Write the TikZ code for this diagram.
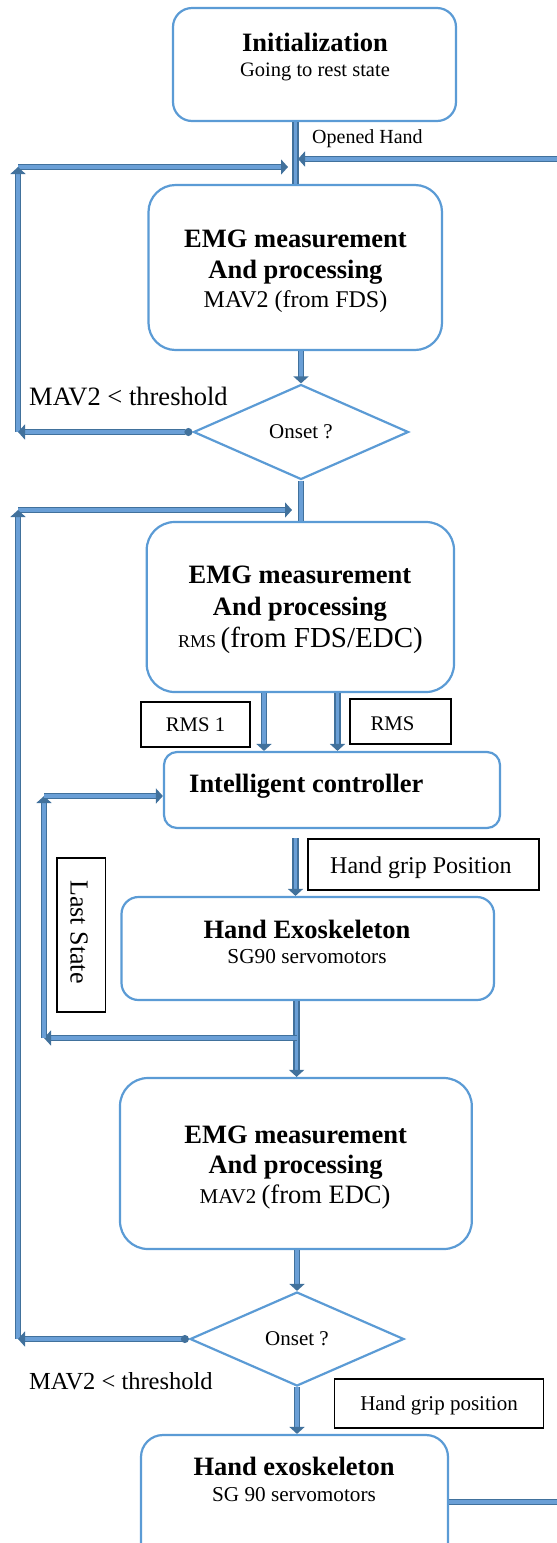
\documentclass[tikz,border=0pt]{standalone}
\usepackage{fontspec}
\setmainfont{Liberation Serif}
\usetikzlibrary{arrows.meta,shapes.geometric}
\definecolor{boxblue}{HTML}{5B9BD5}
\definecolor{arrdark}{HTML}{41719C}
\definecolor{arrlight}{HTML}{6A9FD6}
\newcommand{\setfs}[1]{\fontsize{#1}{#1}\selectfont}
\begin{document}
\begin{tikzpicture}[x=1pt,y=-1pt,
  rbox/.style={draw=boxblue,line width=2.2pt,fill=white,inner sep=0pt},
  lbox/.style={draw=black,line width=1.5pt,fill=white,inner sep=0pt},
  dbox/.style={draw=boxblue,line width=2.2pt,fill=white,shape=diamond,inner sep=0pt,font=\setfs{21}},
  conn/.style={draw=arrdark,double=arrlight,line width=1.7pt,double distance=3.4pt},
  tip/.style={arrows={-Triangle[length=7pt,width=15pt]}},
  dottip/.style={arrows={Circle[length=8pt]-Triangle[length=7pt,width=15pt]}},
  txt/.style={inner sep=0pt,anchor=base},
  txtl/.style={inner sep=0pt,anchor=base west},
  bold/.style={font=\bfseries\setfs{26.5}}
]
\useasboundingbox (0,0) rectangle (557,1543);
\clip (0,0) rectangle (557,1543);

% ---------- boxes ----------
\node[rbox,minimum width=283pt,minimum height=113pt,rounded corners=19pt] (init) at (314.5,64.5) {};
\node[rbox,minimum width=293.5pt,minimum height=165pt,rounded corners=27pt] (emg1) at (295.25,267.5) {};
\node[dbox,minimum width=215pt,minimum height=95pt] (d1) at (301,432) {Onset ?};
\node[rbox,minimum width=307.3pt,minimum height=170pt,rounded corners=28pt] (emg2) at (300.35,607) {};
\node[lbox,minimum width=109pt,minimum height=45pt] (rms1) at (195.5,724.5) {};
\node[lbox,minimum width=101pt,minimum height=45pt] (rms) at (400.5,721.5) {};
\node[rbox,minimum width=336pt,minimum height=76pt,rounded corners=13pt] (ic) at (332,790) {};
\node[lbox,minimum width=231pt,minimum height=51pt] (hgp) at (423.5,864.5) {};
\node[lbox,minimum width=48.5pt,minimum height=154pt] (ls) at (81.25,935) {};
\node[rbox,minimum width=372.5pt,minimum height=103pt,rounded corners=17pt] (he) at (307.75,948.5) {};
\node[rbox,minimum width=351.8pt,minimum height=171pt,rounded corners=28pt] (emg3) at (295.9,1163.5) {};
\node[dbox,minimum width=214pt,minimum height=94pt] (d2) at (297,1339) {Onset ?};
\node[lbox,minimum width=209pt,minimum height=49pt] (hgp2) at (439,1403.5) {};
\node[rbox,minimum width=307pt,minimum height=134pt,rounded corners=22pt] (he2) at (294.5,1502) {};

% ---------- texts ----------
\node[txt,bold] (t1a) at (315,51) {Initialization};
\node[txt,font=\setfs{20.5}] (t1b) at (315,76) {Going to rest state};
\node[txtl,font=\setfs{20}] (topen) at (312,143) {Opened Hand};

\node[txt,bold] (t2a) at (295.5,247) {EMG measurement};
\node[txt,bold] (t2b) at (295.5,278) {And processing};
\node[txt,font=\setfs{24}] (t2c) at (295.5,307) {MAV2 (from FDS)};
\node[txtl,font=\setfs{26.5}] (th1) at (29,405) {MAV2 < threshold};

\node[txt,bold] (t3a) at (300,583) {EMG measurement};
\node[txt,bold] (t3b) at (300,615) {And processing};
\node[txt] (t3c) at (300.5,647) {\setfs{18}RMS \setfs{29}(from FDS/EDC)};
\node[txt,font=\setfs{20.7}] (trms1) at (195.5,731.5) {RMS 1};
\node[txt,font=\setfs{20.8}] (trms) at (392.5,730) {RMS};

\node[txtl,bold] (t4) at (189,792) {Intelligent controller};
\node[txtl,font=\setfs{24}] (thgp) at (330,873) {Hand grip Position};
\node[inner sep=0pt,rotate=-90,font=\setfs{26}] (tls) at (79,932) {Last State};
\node[txt,bold] (t5a) at (307,938) {Hand Exoskeleton};
\node[txt,font=\setfs{21.3}] (t5b) at (307,963) {SG90 servomotors};

\node[txt,bold] (t6a) at (295.6,1143) {EMG measurement};
\node[txt,bold] (t6b) at (295.6,1173) {And processing};
\node[txt] (t6c) at (295,1203) {\setfs{21}MAV2 \setfs{26.5}(from EDC)};
\node[txtl,font=\setfs{24.5}] (th2) at (29,1389) {MAV2 < threshold};
\node[txt,font=\setfs{21}] (thgp2) at (439,1410) {Hand grip position};
\node[txt,bold] (t7a) at (294,1475) {Hand exoskeleton};
\node[txt,font=\setfs{21.2}] (t7b) at (294,1501) {SG 90 servomotors};

% ---------- coordinates ----------
\coordinate (jR) at (298,159);
\coordinate (rc) at (590,1502);
\coordinate (c1) at (18,167);
\coordinate (j1) at (288,167);
\coordinate (c1b) at (18,432);
\coordinate (c2) at (18,510);
\coordinate (j2) at (292,510);
\coordinate (c2b) at (18,1339);
\coordinate (x1) at (264,0);
\coordinate (x2) at (337.5,0);
\coordinate (x3) at (295.5,0);
\coordinate (x4) at (296.6,0);
\coordinate (j3) at (296.6,1038);
\coordinate (c3) at (44,1038);
\coordinate (c4) at (44,796);

% ---------- connectors ----------
\draw[conn] (init.south -| emg1.north) -- (emg1.north);
\draw[conn,tip] (he2.east) -- (rc) |- (jR);
\draw[conn,tip] (c1) -- (j1);
\draw[conn,tip] (c1b) -- (c1);
\draw[conn,dottip] (d1.west) -- (c1b);
\draw[conn,tip] (emg1.south -| d1.north) -- (d1.north);
\draw[conn] (d1.south) -- (d1.south |- emg2.north);
\draw[conn,tip] (c2) -- (j2);
\draw[conn,tip] (c2b) -- (c2);
\draw[conn,dottip] (d2.west) -- (c2b);
\draw[conn,tip] (emg2.south -| x1) -- (ic.north -| x1);
\draw[conn,tip] (emg2.south -| x2) -- (ic.north -| x2);
\draw[conn,tip,shorten <=9pt] (ic.south -| x3) -- (he.north -| x3);
\draw[conn] (he.south -| x4) -- (j3);
\draw[conn,tip] (j3) -- (emg3.north -| x4);
\draw[conn,tip] (j3) -- (c3);
\draw[conn,tip] (c3) -- (c4);
\draw[conn,tip] (c4) -- (c4 -| ic.west);
\draw[conn,tip] (emg3.south -| d2.north) -- (d2.north);
\draw[conn,tip] (d2.south) -- (he2.north -| d2.south);
\end{tikzpicture}
\end{document}
